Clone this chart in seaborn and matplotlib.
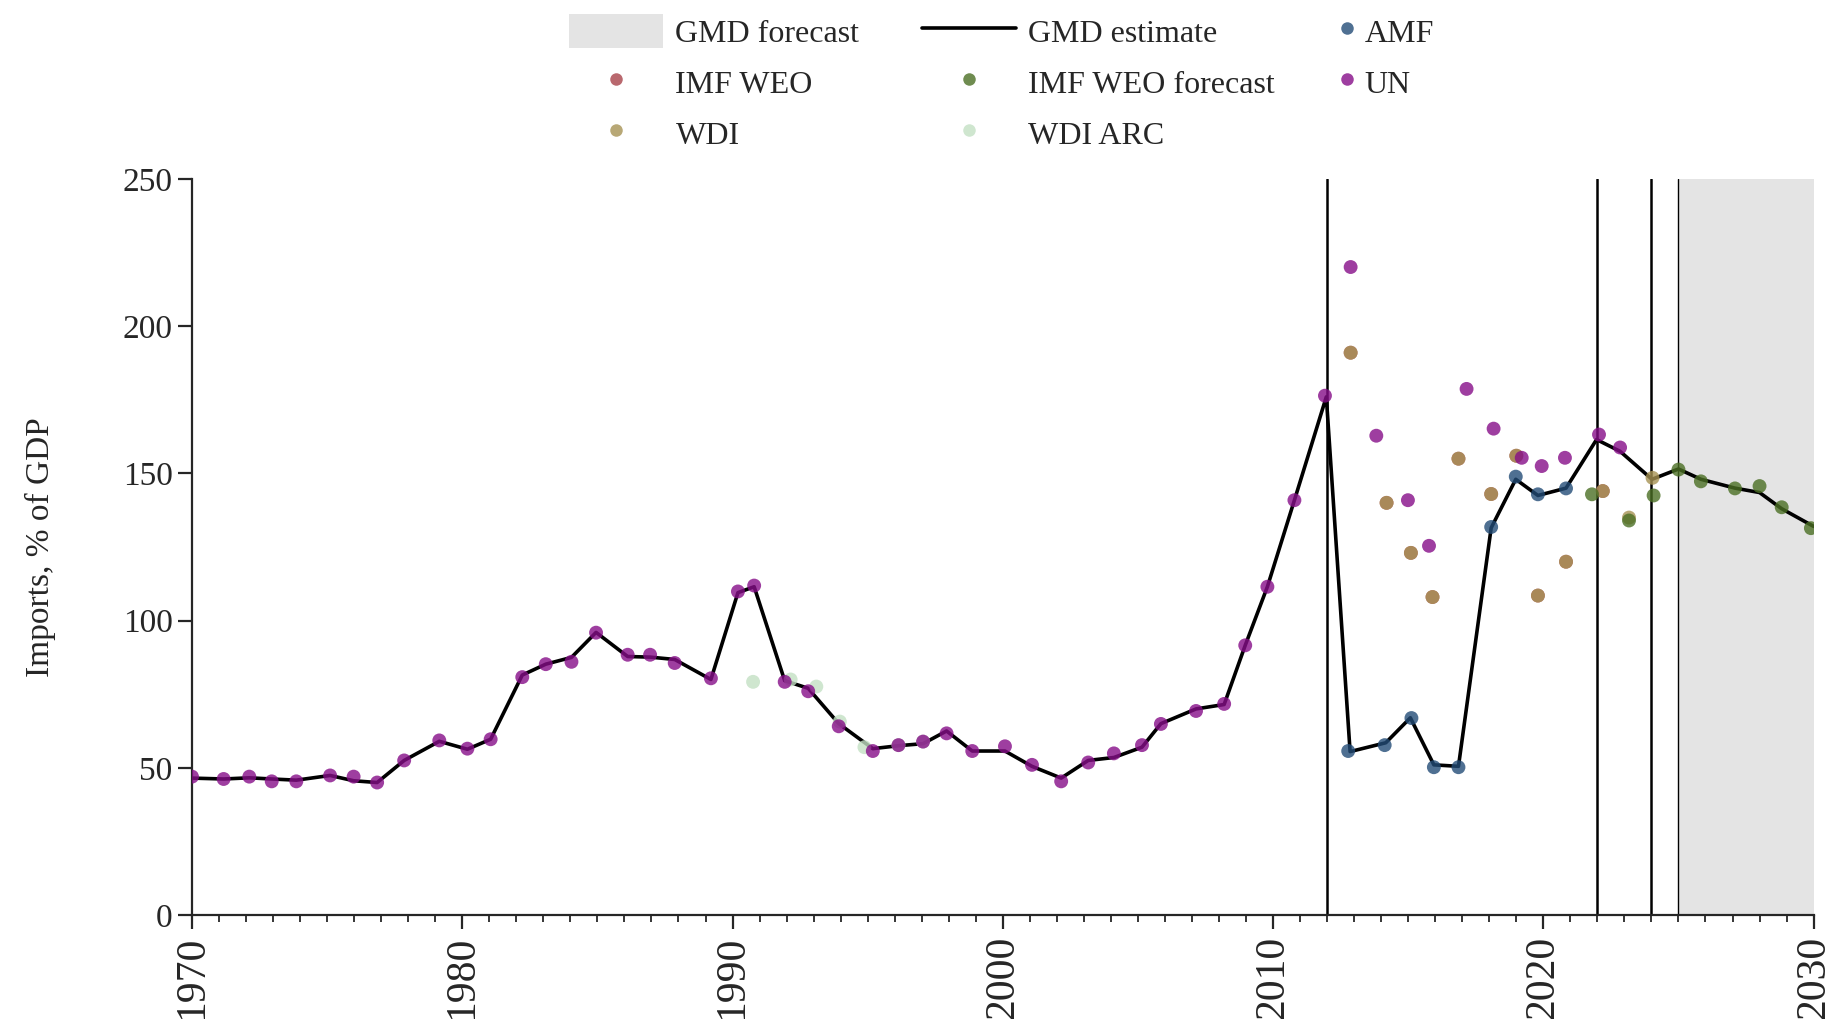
import matplotlib
matplotlib.use("Agg")
import matplotlib.pyplot as plt
import seaborn as sns
import pandas as pd
from matplotlib.lines import Line2D
from matplotlib.patches import Patch

# ---------------- data ----------------
gmd_years = [1970.0, 1971.17, 1972.12, 1972.95, 1973.86, 1975.11, 1975.98, 1976.85, 1977.85, 1979.15,
             1980.19, 1981.05, 1982.22, 1983.09, 1984.04, 1984.95, 1986.12, 1986.95, 1987.86, 1989.2,
             1990.2, 1990.8, 1991.93, 1992.8, 1993.93, 1995.19, 1996.14, 1997.05, 1997.92, 1998.87,
             2000.08, 2001.08, 2002.16, 2003.16, 2004.11, 2005.15, 2005.85, 2007.15, 2008.19, 2008.97,
             2009.79, 2010.79, 2011.97, 2012.85, 2014.17, 2015.08, 2015.95, 2016.86, 2018.07, 2018.98,
             2019.8, 2020.84, 2021.97, 2022.84, 2024.02, 2025.0, 2025.83, 2027.09, 2028.0, 2028.82, 2030.0]
gmd_values = [46.5, 46.2, 46.6, 46.2, 45.8, 47.4, 45.6, 45.0, 52.5, 59.0,
              56.3, 59.7, 81.5, 85.2, 87.5, 96.0, 87.8, 87.6, 86.8, 80.0,
              109.5, 111.5, 79.6, 77.0, 65.0, 56.5, 57.5, 58.2, 62.5, 55.7,
              55.7, 50.5, 46.5, 52.5, 53.5, 57.0, 65.0, 70.0, 71.5, 91.6,
              111.5, 140.9, 176.0, 55.5, 58.5, 67.0, 51.0, 50.5, 131.5, 148.0,
              142.5, 145.0, 161.5, 157.5, 148.0, 151.5, 148.0, 145.0, 143.5, 138.0, 132.0]

un_years = [1970.0, 1971.17, 1972.12, 1972.95, 1973.86, 1975.11, 1975.98, 1976.85, 1977.85, 1979.15,
            1980.19, 1981.05, 1982.22, 1983.09, 1984.04, 1984.95, 1986.12, 1986.95, 1987.86, 1989.2,
            1990.2, 1990.8, 1991.93, 1992.8, 1993.93, 1995.19, 1996.14, 1997.05, 1997.92, 1998.87,
            2000.08, 2001.08, 2002.16, 2003.16, 2004.11, 2005.15, 2005.85, 2007.15, 2008.19, 2008.97,
            2009.79, 2010.79, 2011.92, 2012.87, 2013.82, 2014.99, 2015.77, 2017.16, 2018.16, 2019.2,
            2019.94, 2020.8, 2022.06, 2022.84]
un_values = [47.0, 46.2, 47.0, 45.4, 45.4, 47.4, 47.0, 45.0, 52.5, 59.3,
             56.5, 59.7, 80.8, 85.2, 86.0, 95.9, 88.4, 88.4, 85.6, 80.4,
             109.9, 111.9, 79.2, 76.0, 64.1, 55.7, 57.7, 58.9, 61.7, 55.7,
             57.3, 51.0, 45.4, 51.8, 54.9, 57.7, 64.9, 69.3, 71.7, 91.6,
             111.5, 140.9, 176.4, 220.1, 162.8, 140.9, 125.4, 178.7, 165.2, 155.3,
             152.5, 155.3, 163.2, 158.8]

amf_years = [2012.78, 2014.13, 2015.12, 2015.95, 2016.86, 2018.07, 2018.98, 2019.8, 2020.84]
amf_values = [55.7, 57.7, 66.9, 50.2, 50.2, 131.8, 148.9, 142.9, 144.9]

wdi_years = [2012.87, 2014.2, 2015.1, 2015.9, 2016.86, 2018.07, 2019.0, 2019.8, 2020.84, 2022.2,
             2023.17, 2024.04]
wdi_values = [191.0, 140.0, 123.0, 108.0, 155.0, 143.0, 156.0, 108.5, 120.0, 144.0, 135.0, 148.5]

weo_years = [2012.87, 2014.2, 2015.1, 2015.9, 2016.86, 2018.07, 2019.0, 2019.8, 2020.84, 2022.2]
weo_values = [191.0, 140.0, 123.0, 108.0, 155.0, 143.0, 156.0, 108.5, 120.0, 144.0]

weof_years = [2021.8, 2023.17, 2024.08, 2025.0, 2025.83, 2027.09, 2028.0, 2028.82, 2029.9]
weof_values = [142.9, 134.0, 142.5, 151.3, 147.3, 144.9, 145.7, 138.5, 131.4]

arc_years = [1990.76, 1992.15, 1993.1, 1993.97, 1994.88, 1996.14, 1997.05]
arc_values = [79.2, 80.0, 77.6, 65.7, 57.0, 57.7, 58.9]

break_years = [2012, 2022, 2024]
forecast_start, forecast_end = 2025, 2030

# ---------------- style ----------------
sns.set_style("ticks")
plt.rcParams['font.family'] = ['Liberation Serif', 'DejaVu Serif']
FS = 23

fig = plt.figure(figsize=(18.37, 10.19), dpi=100)
ax = fig.add_axes([192/1837, 1 - 915/1019, (1813.6-192)/1837, (915-179)/1019])

ax.axvspan(forecast_start, forecast_end, color='#e4e4e4', lw=0, zorder=0)
ax.axvline(forecast_start, color='black', lw=1.0, zorder=1)
for b in break_years:
    ax.axvline(b, color='black', lw=1.8, zorder=1)

gmd = pd.DataFrame({'year': gmd_years, 'value': gmd_values})
sns.lineplot(data=gmd, x='year', y='value', color='black', lw=2.6, ax=ax, zorder=3, sort=False)

series = [
    ('IMF WEO', weo_years, weo_values, '#a8424a'),
    ('WDI', wdi_years, wdi_values, '#a69254'),
    ('WDI ARC', arc_years, arc_values, '#c3e0c4'),
    ('UN', un_years, un_values, '#860e88'),
    ('AMF', amf_years, amf_values, '#234c77'),
    ('IMF WEO forecast', weof_years, weof_values, '#4b6f24'),
]
colors = {}
for name, xs, ys, c in series:
    colors[name] = c
    df = pd.DataFrame({'year': xs, 'value': ys})
    sns.scatterplot(data=df, x='year', y='value', color=c, alpha=0.8, s=100,
                    edgecolor='none', ax=ax, zorder=4)

ax.set_xlim(1970, 2030)
ax.set_ylim(0, 250)
ax.set_xticks(range(1970, 2031, 10))
ax.set_xticks(range(1970, 2031, 1), minor=True)
ax.set_yticks(range(0, 251, 50))
ax.tick_params(axis='x', which='major', labelsize=30, rotation=90, length=10, width=1.6, pad=5)
ax.tick_params(axis='x', which='minor', length=5, width=1.3)
ax.tick_params(axis='y', labelsize=24, length=10, width=1.6, pad=4)
for s in ['left', 'bottom']:
    ax.spines[s].set_linewidth(1.6)
sns.despine(ax=ax)
ax.set_xlabel('')
ax.set_ylabel('Imports, % of GDP', fontsize=24, labelpad=48)

def mk(name):
    return Line2D([], [], ls='none', marker='o', markersize=9, markerfacecolor=colors[name],
                  markeredgecolor='none', alpha=0.8)

h1 = [Patch(facecolor='#e4e4e4', edgecolor='none'), mk('IMF WEO'), mk('WDI'),
      Line2D([], [], color='black', lw=2.6), mk('IMF WEO forecast'), mk('WDI ARC')]
l1 = ['GMD forecast', 'IMF WEO', 'WDI', 'GMD estimate', 'IMF WEO forecast', 'WDI ARC']
leg1 = fig.legend(h1, l1, ncol=2, loc='upper left', bbox_to_anchor=(569/1837, 1 - 14/1019),
                  frameon=False, fontsize=FS, handlelength=2.95, handleheight=1.25,
                  handletextpad=0.38, columnspacing=1.95, labelspacing=0.52,
                  borderpad=0, borderaxespad=0)
h2 = [mk('AMF'), mk('UN')]
l2 = ['AMF', 'UN']
leg2 = fig.legend(h2, l2, ncol=1, loc='upper left', bbox_to_anchor=(1339/1837, 1 - 14/1019),
                  frameon=False, fontsize=FS, handlelength=0.5, handleheight=1.25,
                  handletextpad=0.3, labelspacing=0.52, borderpad=0, borderaxespad=0)

fig.savefig('out.png', dpi=100)
